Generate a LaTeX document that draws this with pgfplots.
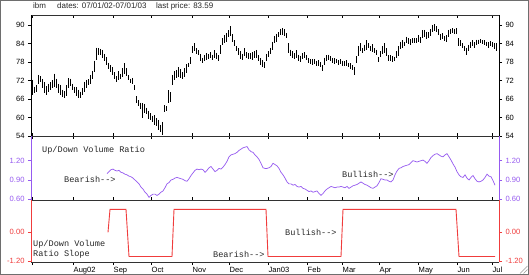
\documentclass[border=0pt]{standalone}
\usepackage{pgfplots}
\pgfplotsset{compat=1.18}
\usepackage{pgfplotstable}
\usepackage{fontspec}
\setmainfont{Liberation Sans}
\setmonofont{Liberation Mono}
\definecolor{vpurple}{RGB}{150,90,240}
\definecolor{vred}{RGB}{240,60,60}
\definecolor{framegray}{RGB}{110,110,110}
\definecolor{axgray}{RGB}{50,50,50}
\definecolor{txtgray}{RGB}{40,40,40}

\pgfplotstableread[row sep=\\]{
x lo hi\\
32 67.3 72.2\\ 34 68.0 70.0\\ 36 68.4 70.6\\ 38 71.0 73.8\\ 40 71.5 73.4\\
42 69.5 72.5\\ 44 68.0 71.5\\ 46 67.4 70.2\\ 48 68.4 71.0\\ 50 69.0 71.4\\
52 69.4 72.0\\ 54 70.0 74.2\\ 56 69.6 72.6\\ 58 68.0 71.0\\ 60 67.4 70.6\\
62 66.6 69.0\\ 64 66.2 68.6\\ 66 67.0 70.4\\ 68 69.6 72.7\\ 70 70.2 72.6\\
72 68.8 71.0\\ 74 67.8 70.0\\ 76 67.0 69.8\\ 78 66.4 69.0\\ 80 66.2 68.4\\
82 67.2 69.6\\ 84 68.4 71.6\\ 86 69.5 72.2\\ 88 70.5 72.4\\ 90 71.0 73.8\\
92 72.6 75.2\\ 94 74.8 78.4\\ 96 78.6 82.6\\ 98 80.3 82.4\\ 100 80.4 82.2\\
102 79.4 81.9\\ 104 78.4 80.6\\ 106 77.0 79.6\\ 108 75.6 77.8\\ 110 74.8 77.0\\
112 73.8 76.2\\ 114 72.4 74.6\\ 116 71.6 73.4\\ 118 72.2 74.9\\ 120 72.4 74.2\\
122 73.0 76.0\\ 124 74.0 77.6\\ 126 73.6 76.0\\ 128 72.0 73.8\\ 130 71.2 72.6\\
132 71.0 72.8\\ 134 69.0 70.5\\ 136 64.6 66.8\\ 138 63.6 65.6\\ 140 62.6 64.8\\
142 59.8 64.6\\ 144 61.4 64.4\\ 146 61.0 63.2\\ 148 59.6 62.2\\ 150 59.2 61.4\\
152 58.6 60.6\\ 154 57.6 60.8\\ 156 57.2 59.8\\ 158 55.8 59.2\\ 160 55.4 57.6\\
162 54.4 58.6\\ 164 61.8 64.0\\ 166 62.0 63.8\\ 168 64.8 68.8\\ 170 65.0 68.2\\
172 70.5 73.8\\ 174 72.2 75.0\\ 176 72.8 75.4\\ 178 73.0 76.2\\ 180 72.8 75.6\\
182 72.4 74.6\\ 184 73.0 76.0\\ 186 74.4 77.2\\ 188 76.4 77.8\\ 190 77.2 79.6\\
192 80.8 83.0\\ 194 81.6 84.0\\ 196 80.6 82.4\\ 198 80.2 81.8\\ 200 78.4 80.6\\
202 77.6 79.4\\ 204 78.4 80.2\\ 206 78.6 80.8\\ 208 79.0 80.6\\ 210 79.4 81.2\\
212 78.6 80.4\\ 214 79.4 81.8\\ 216 79.0 81.0\\ 218 78.2 80.2\\ 220 80.6 83.4\\
222 83.4 85.6\\ 224 84.0 86.6\\ 226 84.6 87.4\\ 228 86.0 88.2\\ 230 86.4 89.5\\
232 84.6 87.0\\ 234 83.0 85.0\\ 236 81.6 83.2\\ 238 80.2 82.4\\ 240 79.0 81.6\\
242 78.6 80.6\\ 244 79.8 82.4\\ 246 79.2 81.2\\ 248 79.0 80.8\\ 250 78.8 80.8\\
252 78.6 81.2\\ 254 79.4 81.6\\ 256 79.2 81.9\\ 258 78.4 80.2\\ 260 77.0 79.2\\
262 76.4 78.6\\ 264 76.0 78.0\\ 266 78.2 80.6\\ 268 79.6 81.4\\ 270 80.6 82.6\\
272 82.0 84.6\\ 274 84.0 86.4\\ 276 84.6 87.2\\ 278 86.0 87.6\\ 280 86.6 88.8\\
282 86.8 89.0\\ 284 86.4 88.6\\ 286 85.6 87.4\\ 288 81.0 84.0\\ 290 79.8 82.0\\
292 79.4 81.4\\ 294 78.8 80.8\\ 296 79.2 81.8\\ 298 78.2 80.4\\ 300 78.0 80.0\\
302 78.8 80.8\\ 304 79.2 81.2\\ 306 78.6 80.2\\ 308 77.6 79.2\\ 310 77.2 78.8\\
312 77.0 79.0\\ 314 77.2 78.8\\ 316 76.6 78.4\\ 318 76.8 78.6\\ 320 76.4 78.0\\
322 75.0 77.0\\ 324 77.0 79.4\\ 326 78.4 80.2\\ 328 78.6 80.4\\ 330 78.2 79.8\\
332 77.8 79.4\\ 334 77.4 79.2\\ 336 77.6 79.0\\ 338 77.0 78.6\\ 340 77.2 78.8\\
342 76.8 78.4\\ 344 76.6 78.2\\ 346 76.8 78.6\\ 348 76.2 77.8\\ 350 75.8 77.6\\
352 75.4 77.0\\ 354 73.8 76.2\\ 356 77.6 79.8\\ 358 79.8 83.2\\ 360 81.4 84.0\\
362 80.8 82.6\\ 364 81.6 83.6\\ 366 82.0 85.0\\ 368 82.4 84.2\\ 370 81.4 83.2\\
372 81.2 83.8\\ 374 80.8 82.4\\ 376 80.2 82.0\\ 378 78.0 79.6\\ 380 79.6 81.4\\
382 80.6 83.0\\ 384 81.0 84.0\\ 386 80.0 82.4\\ 388 78.4 80.2\\ 390 78.2 80.2\\
392 78.0 79.8\\ 394 78.2 79.6\\ 396 79.2 81.4\\ 398 80.0 83.0\\ 400 82.2 84.6\\
402 82.6 85.0\\ 404 83.0 84.6\\ 406 84.0 86.2\\ 408 83.8 85.6\\ 410 83.6 85.4\\
412 84.0 85.6\\ 414 84.2 85.8\\ 416 84.0 85.6\\ 418 84.4 86.6\\ 420 84.2 86.0\\
422 85.6 88.2\\ 424 86.0 88.4\\ 426 85.4 87.8\\ 428 85.8 87.6\\ 430 86.4 88.6\\
432 87.8 90.0\\ 434 88.0 90.2\\ 436 87.8 89.6\\ 438 86.6 88.6\\ 440 85.2 87.2\\
442 85.4 87.3\\ 444 84.8 86.4\\ 446 84.6 86.7\\ 448 86.2 88.4\\ 450 87.2 88.8\\
452 87.4 88.9\\ 454 87.2 88.8\\ 456 87.0 88.9\\ 458 83.2 85.6\\ 460 83.0 85.0\\
462 82.4 84.0\\ 464 81.4 83.0\\ 466 80.2 82.6\\ 468 81.4 83.6\\ 470 82.6 84.6\\
472 83.0 85.0\\ 474 82.4 84.4\\ 476 83.6 85.2\\ 478 83.8 85.2\\ 480 84.0 85.3\\
482 83.8 85.0\\ 484 83.4 85.0\\ 486 83.0 84.6\\ 488 82.6 84.4\\ 490 83.2 84.8\\
492 82.8 84.4\\ 494 82.2 84.0\\ 496 81.6 84.0\\
}\pricedata

\pgfplotstableread[row sep=\\]{
x v\\
107 1.00\\ 109 1.03\\ 111 1.06\\ 113 1.07\\ 115 1.05\\ 117 1.04\\ 119 1.05\\
121 1.02\\ 123 1.01\\ 125 0.99\\ 127 0.98\\ 129 0.96\\ 131 0.95\\ 133 0.93\\
135 0.90\\ 137 0.87\\ 139 0.84\\ 141 0.79\\ 143 0.76\\ 145 0.71\\ 147 0.68\\
149 0.63\\ 151 0.66\\ 153 0.68\\ 155 0.68\\ 157 0.66\\ 159 0.68\\ 161 0.71\\
163 0.73\\ 165 0.78\\ 167 0.84\\ 169 0.86\\ 171 0.90\\ 173 0.91\\ 175 0.93\\
177 0.94\\ 179 0.93\\ 181 0.92\\ 183 0.91\\ 185 0.89\\ 187 0.88\\ 189 0.92\\
191 0.97\\ 193 1.01\\ 195 1.05\\ 197 1.07\\ 199 1.06\\ 201 1.07\\ 203 1.06\\
205 1.02\\ 207 1.05\\ 209 1.09\\ 211 1.11\\ 213 1.07\\ 215 1.03\\ 217 1.05\\
219 1.08\\ 221 1.07\\ 223 1.10\\ 225 1.14\\ 227 1.19\\ 229 1.26\\ 231 1.29\\
233 1.30\\ 235 1.31\\ 237 1.33\\ 239 1.36\\ 241 1.38\\ 243 1.40\\ 245 1.41\\
247 1.42\\ 249 1.37\\ 251 1.34\\ 253 1.33\\ 255 1.29\\ 257 1.26\\ 259 1.22\\
261 1.16\\ 263 1.09\\ 265 1.08\\ 267 1.08\\ 269 1.09\\ 271 1.11\\ 273 1.16\\
275 1.14\\ 277 1.12\\ 279 1.08\\ 281 1.02\\ 283 0.98\\ 285 0.93\\ 287 0.87\\
289 0.84\\ 291 0.84\\ 293 0.82\\ 295 0.83\\ 297 0.80\\ 299 0.79\\ 301 0.80\\
303 0.77\\ 305 0.76\\ 307 0.74\\ 309 0.72\\ 311 0.73\\ 313 0.71\\ 315 0.72\\
317 0.73\\ 319 0.69\\ 321 0.66\\ 323 0.69\\ 325 0.73\\ 327 0.76\\ 329 0.78\\
331 0.80\\ 333 0.79\\ 335 0.78\\ 337 0.79\\ 339 0.79\\ 341 0.80\\ 343 0.79\\
345 0.78\\ 347 0.80\\ 349 0.77\\ 351 0.79\\ 353 0.81\\ 355 0.82\\ 357 0.83\\
359 0.85\\ 361 0.87\\ 363 0.85\\ 365 0.83\\ 367 0.82\\ 369 0.80\\ 371 0.78\\
373 0.77\\ 375 0.79\\ 377 0.81\\ 379 0.86\\ 381 0.92\\ 383 0.91\\ 385 0.90\\
387 0.90\\ 389 0.88\\ 391 0.87\\ 393 0.90\\ 395 0.98\\ 397 1.04\\ 399 1.08\\
401 1.09\\ 403 1.11\\ 405 1.12\\ 407 1.13\\ 409 1.14\\ 411 1.17\\ 413 1.20\\
415 1.19\\ 417 1.18\\ 419 1.19\\ 421 1.20\\ 423 1.21\\ 425 1.19\\ 427 1.16\\
429 1.20\\ 431 1.25\\ 433 1.28\\ 435 1.30\\ 437 1.31\\ 439 1.29\\ 441 1.27\\
443 1.26\\ 445 1.29\\ 447 1.31\\ 449 1.26\\ 451 1.21\\ 453 1.15\\ 455 1.10\\
457 1.03\\ 459 0.98\\ 461 0.95\\ 463 0.94\\ 465 0.98\\ 467 0.93\\ 469 0.90\\
471 0.94\\ 473 0.97\\ 475 0.92\\ 477 0.88\\ 479 0.87\\ 481 0.88\\ 483 0.90\\
485 0.94\\ 487 0.99\\ 489 0.96\\ 491 0.95\\ 493 0.89\\ 495 0.82\\
}\ratiodata

\pgfplotsset{
  panel/.style={
    scale only axis, width=468bp, xmin=31, xmax=499,
    xtick={32,73,113,151,192,229,268,307,342,379,418,457,492},
    tick label style={font=\fontsize{7.6}{9}\selectfont},
    /pgf/number format/assume math mode=true,
    major tick length=3bp,
    separate axis lines,
    axis line style={line width=0.8bp},
    every tick/.style={line width=0.6bp},
  },
}

\begin{document}
\begin{tikzpicture}
\useasboundingbox (0,0) rectangle (529bp,-275bp);
\fill[white] (0,0) rectangle (529bp,-275bp);

% ---------- price panel ----------
\begin{axis}[panel, at={(31bp,-136bp)}, anchor=south west, height=121bp,
  ymin=54, ymax=93.2, ytick={54,60,...,90},
  xticklabels={}, xtick pos=both, xtick align=inside,
  ytick pos=left, ytick align=outside,
  x axis line style={axgray}]
\addplot[draw=none, mark=none,
  error bars/.cd, y dir=minus, y explicit, error mark=none,
  error bar style={draw=black, line width=0.7bp}]
  table[x=x, y=hi, y error expr=\thisrow{hi}-\thisrow{lo}] {\pricedata};
\end{axis}
\begin{axis}[panel, at={(31bp,-136bp)}, anchor=south west, height=121bp,
  ymin=54, ymax=93.2, ytick={54,60,...,90},
  axis x line=none, axis y line*=right, ytick align=outside, xtick=\empty]
\end{axis}

% ---------- up/down volume ratio panel ----------
\begin{axis}[panel, at={(31bp,-200bp)}, anchor=south west, height=64bp,
  ymin=0.589, ymax=1.584, ytick={0.6,0.9,1.2},
  xticklabels={}, xtick pos=both, xtick align=inside,
  ytick pos=left, ytick align=outside,
  yticklabel style={color=vpurple, /pgf/number format/fixed, /pgf/number format/fixed zerofill, /pgf/number format/precision=2},
  ytick style={vpurple},
  x axis line style={axgray}, y axis line style={vpurple}]
\addplot[vpurple, line width=0.7bp, mark=none] table[x=x, y=v] {\ratiodata};
\end{axis}
\begin{axis}[panel, at={(31bp,-200bp)}, anchor=south west, height=64bp,
  ymin=0.589, ymax=1.584, ytick={0.6,0.9,1.2},
  axis x line=none, axis y line*=right, ytick align=outside, xtick=\empty,
  yticklabel style={color=vpurple, /pgf/number format/fixed, /pgf/number format/fixed zerofill, /pgf/number format/precision=2},
  ytick style={vpurple}, y axis line style={vpurple}]
\end{axis}

% ---------- slope panel ----------
\begin{axis}[panel, at={(31bp,-262bp)}, anchor=south west, height=62bp,
  ymin=-1.23, ymax=1.34, ytick={-1.2,0},
  xticklabels={{},Aug02,Sep,Oct,Nov,Dec,Jan03,Feb,Mar,Apr,May,Jun,Jul},
  xticklabel style={anchor=north west, inner sep=1bp, xshift=-0.5bp, yshift=-1bp},
  xtick pos=bottom, xtick align=outside,
  ytick pos=left, ytick align=outside,
  yticklabel style={color=vred, /pgf/number format/fixed, /pgf/number format/fixed zerofill, /pgf/number format/precision=2},
  ytick style={vred},
  x axis line style={axgray}, y axis line style={vred}]
\addplot[vred, line width=0.9bp, mark=none] coordinates {
  (108,0) (110,0.95) (126,0.95) (129,-1.0) (172,-1.0) (174,0.95)
  (266,0.95) (268,-1.0) (341,-1.0) (343,0.95) (456,0.95) (459,-1.0) (495,-1.0)};
\end{axis}
\begin{axis}[panel, at={(31bp,-262bp)}, anchor=south west, height=62bp,
  ymin=-1.23, ymax=1.34, ytick={-1.2,0},
  axis x line=none, axis y line*=right, ytick align=outside, xtick=\empty,
  yticklabel style={color=vred, /pgf/number format/fixed, /pgf/number format/fixed zerofill, /pgf/number format/precision=2},
  ytick style={vred}, y axis line style={vred}]
\end{axis}

% ---------- texts ----------
\begin{scope}[every node/.style={inner sep=0, anchor=west, text=txtgray}]
\node[font=\fontsize{8}{9}\selectfont] at (33bp,-6bp) {ibm};
\node[font=\fontsize{8}{9}\selectfont] at (57bp,-6bp) {dates: 07/01/02-07/01/03};
\node[font=\fontsize{8}{9}\selectfont] at (156bp,-6bp) {last price: 83.59};
\node[font=\ttfamily\fontsize{8.6}{10}\selectfont] at (42bp,-150.5bp) {Up/Down Volume Ratio};
\node[font=\ttfamily\fontsize{8.6}{10}\selectfont] at (64bp,-179bp) {Bearish-->};
\node[font=\ttfamily\fontsize{8.6}{10}\selectfont] at (342bp,-174bp) {Bullish-->};
\node[font=\ttfamily\fontsize{8.6}{10}\selectfont] at (33bp,-244bp) {Up/Down Volume};
\node[font=\ttfamily\fontsize{8.6}{10}\selectfont] at (33bp,-254bp) {Ratio Slope};
\node[font=\ttfamily\fontsize{8.6}{10}\selectfont] at (213bp,-254bp) {Bearish-->};
\node[font=\ttfamily\fontsize{8.6}{10}\selectfont] at (285bp,-232bp) {Bullish-->};
\end{scope}

% frame
\draw[framegray, line width=1.2bp] (0.6bp,-0.6bp) rectangle (528.4bp,-274.4bp);
\draw[framegray!70, line width=0.6bp] (520bp,-273.5bp) -- (527.5bp,-266bp) (523.5bp,-273.5bp) -- (527.5bp,-269.5bp);
\end{tikzpicture}
\end{document}
